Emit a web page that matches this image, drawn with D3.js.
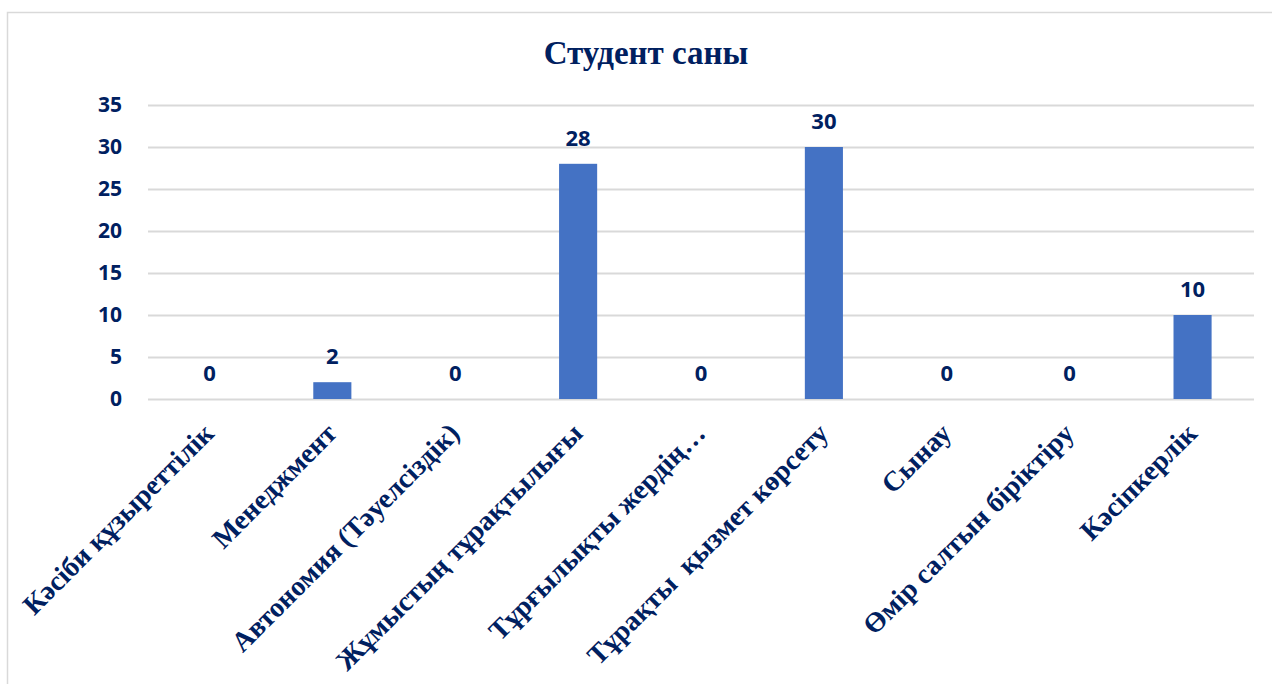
<!DOCTYPE html>
<html><head><meta charset="utf-8">
<script src="https://cdn.jsdelivr.net/npm/d3@7"></script>
<style>body{margin:0;background:#fff}svg{display:block}</style>
</head><body>
<svg id="c" width="1272" height="684"></svg>
<script>
const categories = ["Кәсіби құзыреттілік","Менеджмент","Автономия (Тәуелсіздік)","Жұмыстың тұрақтылығы","Тұрғылықты жердің…","Тұрақты  қызмет көрсету","Сынау","Өмір салтын біріктіру","Кәсіпкерлік"];
const values = [0,2,0,28,0,30,0,0,10];
const yTicks = [0,5,10,15,20,25,30,35];
const title = "Студент саны";

const svg = d3.select("#c");
const navy = "#002060";
svg.append("rect").attr("x",7.5).attr("y",12.5).attr("width",1300).attr("height",700)
  .attr("fill","#fff").attr("stroke","#d9d9d9").attr("stroke-width",1.5);

const m = {l:148, r:1254, t:105, b:399};
const x = d3.scaleBand().domain(categories).range([m.l,m.r]).paddingInner(0.69).paddingOuter(0.345);
const y = d3.scaleLinear().domain([0,35]).range([m.b,m.t]);

svg.append("text").attr("x",646).attr("y",64).attr("text-anchor","middle")
  .attr("font-family","Liberation Serif").attr("font-weight","bold").attr("font-size",33)
  .attr("fill",navy).text(title);

const gy = svg.append("g").attr("transform",`translate(${m.l},0)`)
  .call(d3.axisLeft(y).tickValues(yTicks).tickSize(-(m.r-m.l)).tickPadding(26));
gy.select(".domain").remove();
gy.selectAll(".tick line").attr("stroke","#d9d9d9").attr("stroke-width",2);
gy.selectAll(".tick text").attr("font-family","Open Sans").attr("font-weight","bold")
  .attr("font-size",21).attr("fill",navy);

svg.append("g").selectAll("rect").data(values).join("rect")
  .attr("x",(d,i)=>x(categories[i])).attr("width",x.bandwidth())
  .attr("y",d=>y(d)).attr("height",d=>y(0)-y(d)).attr("fill","#4472C4");

svg.append("g").selectAll("text").data(values).join("text")
  .attr("x",(d,i)=>x(categories[i])+x.bandwidth()/2).attr("y",d=>y(d)-18)
  .attr("text-anchor","middle").attr("font-family","Open Sans").attr("font-weight","bold")
  .attr("font-size",22).attr("fill",navy).text(d=>d);

svg.append("g").selectAll("text").data(categories).join("text")
  .attr("transform",d=>`translate(${x(d)+x.bandwidth()/2+6},${435}) rotate(-45)`)
  .attr("text-anchor","end").attr("font-family","Liberation Serif").attr("font-weight","bold")
  .attr("font-size",28).attr("fill",navy).style("white-space","pre").text(d=>d);
</script>
</body></html>
